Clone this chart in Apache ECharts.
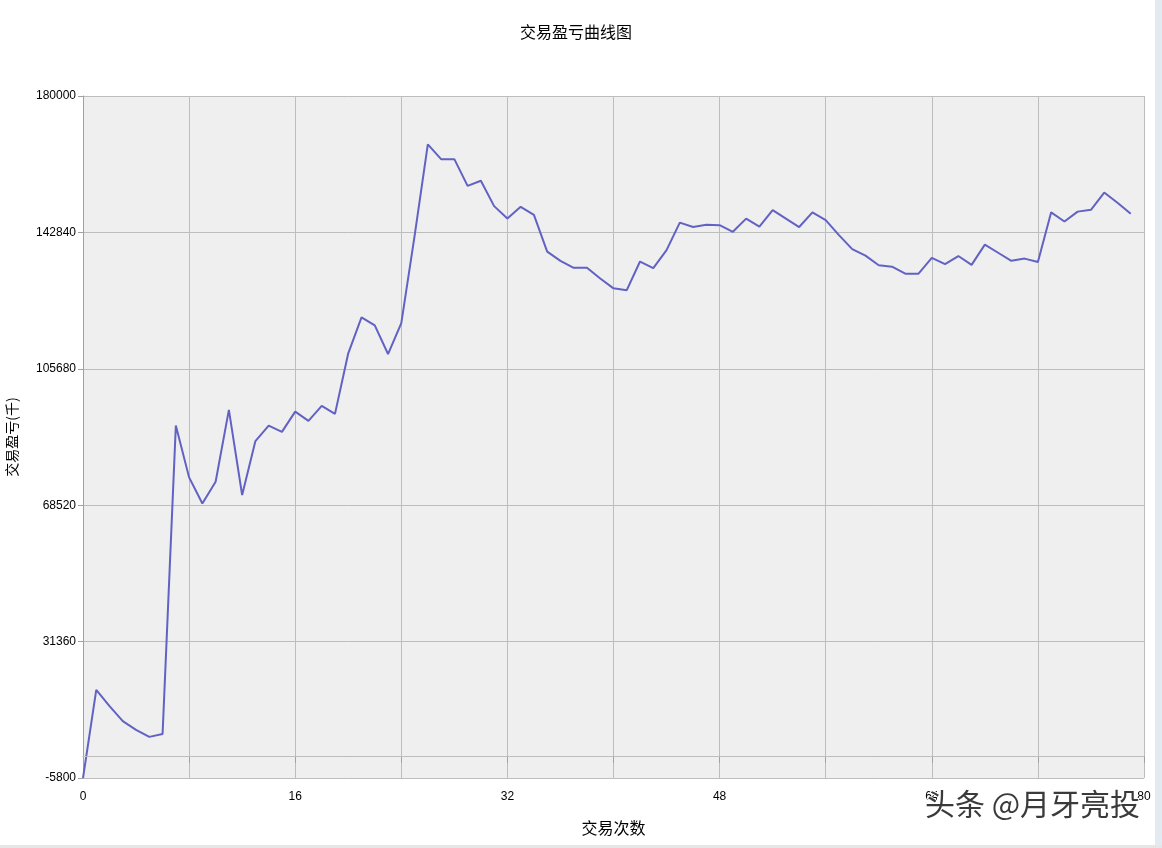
<!DOCTYPE html>
<html>
<head>
<meta charset="utf-8">
<script src="https://cdn.jsdelivr.net/npm/echarts@6/dist/echarts.min.js"></script>
<style>
html,body{margin:0;padding:0;background:#fff;}
#chart{width:1162px;height:848px;}
</style>
</head>
<body>
<div id="chart"></div>
<script>
var titleText = '交易盈亏曲线图';
var xAxisName = '交易次数';
var yAxisName = '交易盈亏(千)';
var yTicks = [-5800, 31360, 68520, 105680, 142840, 180000];
var xLabelEvery = 16;
var xTickStep = 8;
var xMax = 80;
var profit = [
  -5800, 18200, 13800, 9700, 7300, 5400, 6200, 90200, 76100, 69000,
  74900, 94500, 71300, 86000, 90200, 88500, 94000, 91500, 95600, 93400,
  109900, 119700, 117500, 109700, 118100, 141800, 166800, 162800, 162800, 155500,
  156900, 150000, 146600, 149800, 147600, 137600, 135100, 133200, 133200, 130300,
  127600, 127100, 134900, 133100, 138000, 145500, 144300, 144900, 144800, 143000,
  146600, 144400, 148900, 146600, 144300, 148300, 146200, 142100, 138300, 136500,
  133900, 133500, 131600, 131600, 135900, 134200, 136400, 134000, 139500, 137300,
  135100, 135700, 134800, 148300, 145800, 148500, 149000, 153700, 150900, 147900
];

var chart = echarts.init(document.getElementById('chart'), null, {renderer: 'canvas'});
var gridL = 83, gridR = 18, gridT = 96, gridB = 70;
var option = {
  backgroundColor: '#ffffff',
  animation: false,
  title: {
    text: titleText,
    left: 515,
    top: 19,
    textStyle: {fontFamily: 'Noto Sans CJK SC', fontSize: 16, fontWeight: 'normal', color: '#000'}
  },
  grid: {left: gridL, right: gridR, top: gridT, bottom: gridB, show: true, backgroundColor: '#EFEFEF', borderWidth: 0, containLabel: false, outerBoundsMode: 'none'},
  xAxis: {
    type: 'value',
    min: 0, max: xMax, interval: xTickStep,
    name: xAxisName,
    nameLocation: 'middle',
    nameGap: 42,
    nameTextStyle: {fontFamily: 'Noto Sans CJK SC', fontSize: 16, color: '#000'},
    axisLine: {show: true, lineStyle: {color: '#A0A0A0', width: 1}},
    axisTick: {show: true, length: 6, lineStyle: {color: '#A0A0A0'}},
    axisLabel: {
      fontFamily: 'Liberation Sans', fontSize: 12, color: '#000', margin: 13,
      formatter: function (v) { return (v % xLabelEvery === 0) ? String(v) : ''; }
    },
    splitLine: {show: true, lineStyle: {color: '#BDBDBD', width: 1}}
  },
  yAxis: {
    type: 'value',
    min: yTicks[0], max: yTicks[yTicks.length - 1], interval: yTicks[1] - yTicks[0],
    name: yAxisName,
    nameLocation: 'middle',
    nameGap: 64,
    nameRotate: 90,
    nameTextStyle: {fontFamily: 'Noto Sans CJK SC', fontSize: 14, color: '#000'},
    axisLine: {show: true, lineStyle: {color: '#A0A0A0', width: 1}},
    axisTick: {show: true, length: 5, lineStyle: {color: '#A0A0A0'}},
    axisLabel: {fontFamily: 'Liberation Sans', fontSize: 12, color: '#000', margin: 7,
      formatter: function (v) { return String(v); }},
    splitLine: {show: true, lineStyle: {color: '#BDBDBD', width: 1}}
  },
  series: [{
    type: 'line',
    data: profit.map(function (v, i) { return [i, v]; }),
    symbol: 'none',
    lineStyle: {color: '#6262C4', width: 2},
    itemStyle: {color: '#6262C4'},
    markLine: {
      silent: true,
      symbol: 'none',
      label: {show: false},
      lineStyle: {color: '#BDBDBD', width: 1, type: 'solid'},
      data: [{yAxis: 0}]
    },
    z: 3
  }],
  graphic: [
    {type: 'rect', left: 1155, top: 0, shape: {width: 7, height: 848}, style: {fill: '#E3EAF2'}, silent: true},
    {type: 'rect', left: 0, top: 845, shape: {width: 1162, height: 3}, style: {fill: '#E6E6E6'}, silent: true},
    {
      type: 'text', left: 924, top: 788, z: 100,
      style: {
        text: '头条 @月牙亮投',
        fontFamily: 'Noto Sans CJK SC', fontSize: 30, fill: '#3a3a3a',
        stroke: '#ffffff', lineWidth: 2
      }
    }
  ]
};
chart.setOption(option);
</script>
</body>
</html>
